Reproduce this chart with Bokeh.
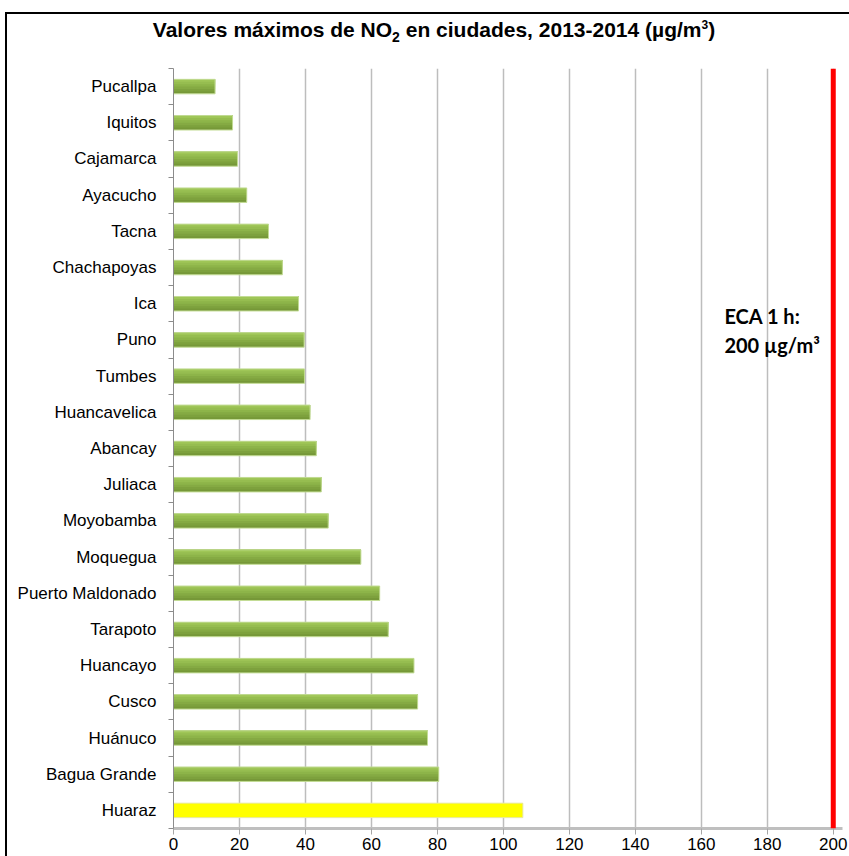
from bokeh.plotting import figure
from bokeh.models import ColumnDataSource, FixedTicker, Span, Label, Div
from bokeh.layouts import column
from bokeh.transform import dodge
from bokeh.embed import file_html
from bokeh.resources import INLINE

cities = ["Pucallpa", "Iquitos", "Cajamarca", "Ayacucho", "Tacna", "Chachapoyas", "Ica",
          "Puno", "Tumbes", "Huancavelica", "Abancay", "Juliaca", "Moyobamba", "Moquegua",
          "Puerto Maldonado", "Tarapoto", "Huancayo", "Cusco", "Huánuco", "Bagua Grande", "Huaraz"]
values = [12.6, 17.9, 19.4, 22.2, 28.8, 33.0, 37.9, 39.6, 39.7, 41.4, 43.3, 44.8, 46.9,
          56.8, 62.5, 65.1, 72.9, 74.0, 77.0, 80.4, 105.9]
highlight = "Huaraz"
eca_limit = 200
x_ticks = [0, 20, 40, 60, 80, 100, 120, 140, 160, 180, 200]

n = len(cities)
ypos = [n - 1 - i for i in range(n)]

# gradient levels: darkest (bottom) to lightest (top)
levels = ["#769838", "#7da13d", "#85aa43", "#8db449", "#96bd50", "#9fc657"]
yellow = "#ffff00"

data = dict(y=ypos, v=values, city=cities,
            oc=["#e8e8a8" if c == highlight else "#c3dc95" for c in cities])
for k, col in enumerate(levels):
    data[f"c{k}"] = [yellow if c == highlight else col for c in cities]
src = ColumnDataSource(data)

title_html = (
    '<div style="width:854px;text-align:center;font-family:\'Liberation Sans\',Arial,sans-serif;'
    'font-weight:bold;font-size:21px;line-height:24px;padding-top:4px;color:#000;white-space:nowrap">'
    'Valores máximos de NO<sub style="font-size:14px;line-height:0">2</sub> en ciudades, 2013-2014 '
    '(µg/m<sup style="font-size:12px;line-height:0">3</sup>)</div>'
)
title_div = Div(text=title_html, width=854, height=52, margin=0)

p = figure(width=850, height=818, output_backend="svg", toolbar_location=None,
           x_range=(0, 202.8), y_range=(-0.5, n - 0.5),
           min_border_left=166, min_border_right=15, min_border_top=2, min_border_bottom=56)
p.outline_line_color = None
p.background_fill_color = "white"

h = 0.4
nl = len(levels)
for k in range(nl):
    hk = h * (nl - k) / nl
    off = h / 2 - hk / 2
    p.hbar(y=dodge("y", off), right="v", left=0, height=hk, source=src,
           fill_color=f"c{k}", line_color=None)
p.hbar(y="y", right="v", left=0, height=h, source=src, fill_color=None,
       line_color="oc", line_width=1)

p.add_layout(Span(location=eca_limit, dimension="height", line_color="#ff0000", line_width=5))

lab_font = "Lato"
p.add_layout(Label(x=167, y=13.65, text="ECA 1 h:", text_font=lab_font, text_font_style="bold",
                   text_font_size="20px", text_baseline="middle", text_color="#000"))
p.add_layout(Label(x=167, y=12.85, text="200 µg/m³", text_font=lab_font, text_font_style="bold",
                   text_font_size="20px", text_baseline="middle", text_color="#000"))

# x axis
p.xaxis.ticker = FixedTicker(ticks=x_ticks, minor_ticks=[])
p.xaxis.axis_line_color = "#bfbfbf"
p.xaxis.axis_line_width = 3
p.xaxis.major_tick_line_color = "#a6a6a6"
p.xaxis.major_tick_out = 6
p.xaxis.major_tick_in = 0
p.xaxis.minor_tick_line_color = None
p.xaxis.major_label_text_font = "Liberation Sans"
p.xaxis.major_label_text_font_size = "17px"
p.xaxis.major_label_text_color = "#000"
p.xaxis.major_label_standoff = 3

# y axis
p.yaxis.ticker = FixedTicker(ticks=ypos, minor_ticks=[i - 0.5 for i in range(n + 1)])
p.yaxis.major_label_overrides = {y: c for y, c in zip(ypos, cities)}
p.yaxis.axis_line_color = "#8c8c8c"
p.yaxis.major_tick_line_color = None
p.yaxis.major_tick_out = 0
p.yaxis.minor_tick_line_color = "#8c8c8c"
p.yaxis.minor_tick_out = 5
p.yaxis.minor_tick_in = 0
p.yaxis.major_label_text_font = "Liberation Sans"
p.yaxis.major_label_text_font_size = "17px"
p.yaxis.major_label_text_color = "#000"
p.yaxis.major_label_standoff = 12

p.xgrid.ticker = FixedTicker(ticks=x_ticks)
p.xgrid.grid_line_color = "#bdbdbd"
p.xgrid.grid_line_width = 1.5
p.ygrid.grid_line_color = None

layout = column(title_div, p, spacing=0)
layout.styles = {"margin-left": "5px", "margin-top": "12px",
                 "border-left": "2px solid #000", "border-top": "2px solid #000"}

open("out.html", "w").write(file_html(layout, INLINE))
